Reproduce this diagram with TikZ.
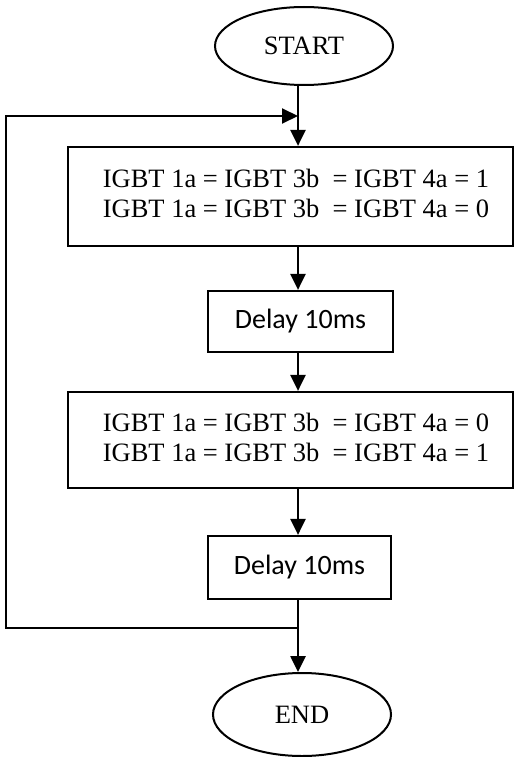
\documentclass[tikz,border=0pt]{standalone}
\usepackage{fontspec}
\setmainfont{Liberation Serif}
\newfontfamily\calib{Carlito}
\usetikzlibrary{shapes.geometric,arrows.meta}
\tikzset{
  term/.style={ellipse, draw, line width=2pt, inner sep=0pt, font=\fontsize{26.5pt}{30pt}\selectfont},
  bigbox/.style={rectangle, draw, line width=2.2pt, inner sep=0pt, minimum width=445pt, font=\fontsize{26.5pt}{30pt}\selectfont},
  delaybox/.style={rectangle, draw, line width=2.2pt, inner sep=0pt, font=\calib\fontsize{28pt}{32pt}\selectfont},
  conn/.style={line width=2.6pt},
  arr/.style={line width=2.6pt, -{Triangle[length=16pt, width=15pt]}},
}
\newcommand{\igbtlines}[2]{\hspace*{11pt}\raisebox{5pt}{\begin{tabular}{@{}l@{}}IGBT 1a = IGBT 3b\ \ = IGBT 4a = #1\\IGBT 1a = IGBT 3b\ \ = IGBT 4a = #2\end{tabular}}}
\begin{document}
\begin{tikzpicture}[x=1pt, y=-1pt]
\useasboundingbox (0,0) rectangle (518,757);
\node[term, minimum width=178pt, minimum height=78pt] (start) at (304,46) {START};
\node[bigbox, minimum height=99pt] (b1) at (290.5,196.5) {\igbtlines{1}{0}};
\node[delaybox, minimum width=185pt, minimum height=61pt] (d1) at (300.5,321.5) {\raisebox{3pt}{Delay 10ms}};
\node[bigbox, minimum height=96pt] (b2) at (290.5,440) {\igbtlines{0}{1}};
\node[delaybox, minimum width=183pt, minimum height=63pt] (d2) at (299.5,567.5) {\raisebox{3pt}{Delay 10ms}};
\node[term, minimum width=178pt, minimum height=83pt] (end) at (302,714.5) {END};
\coordinate (j1) at (298,116);
\coordinate (j2) at (298,628);
\coordinate (c1) at (6,628);
\coordinate (c2) at (6,116);
\draw[conn] (j1 |- start.south) -- (j1);
\draw[arr] (j1) -- (j1 |- b1.north);
\draw[arr] (j1 |- b1.south) -- (j1 |- d1.north);
\draw[arr] (j1 |- d1.south) -- (j1 |- b2.north);
\draw[arr] (j1 |- b2.south) -- (j1 |- d2.north);
\draw[conn] (j1 |- d2.south) -- (j2);
\draw[arr] (j2) -- (j1 |- end.north);
\draw[arr, line width=2pt] (j2) -- (c1) -- (c2) -- (j1);
\end{tikzpicture}
\end{document}
